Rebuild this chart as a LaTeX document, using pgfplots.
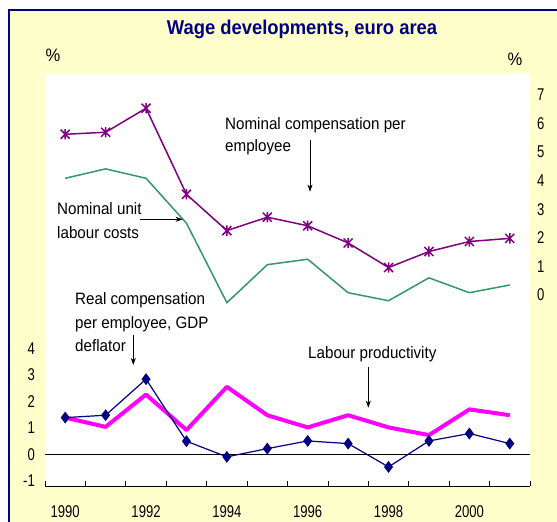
\documentclass[border=0pt]{standalone}
\usepackage{fontspec}
\setmainfont{Liberation Sans}[FakeStretch=0.92]
\newfontfamily\tickfont{Liberation Sans}[FakeStretch=0.77]
\usepackage{pgfplots}
\pgfplotsset{compat=1.18}
\usetikzlibrary{arrows.meta}
\definecolor{bgyellow}{RGB}{255,255,204}
\definecolor{navyc}{RGB}{0,0,128}
\definecolor{ecbpurple}{RGB}{128,0,128}
\definecolor{ecbgreen}{RGB}{51,153,102}
\definecolor{ecbmagenta}{RGB}{255,0,255}
\pgfdeclareplotmark{xstar}{%
  \pgfpathmoveto{\pgfpoint{-\pgfplotmarksize}{-\pgfplotmarksize}}%
  \pgfpathlineto{\pgfpoint{\pgfplotmarksize}{\pgfplotmarksize}}%
  \pgfpathmoveto{\pgfpoint{-\pgfplotmarksize}{\pgfplotmarksize}}%
  \pgfpathlineto{\pgfpoint{\pgfplotmarksize}{-\pgfplotmarksize}}%
  \pgfpathmoveto{\pgfpoint{0pt}{-1.15\pgfplotmarksize}}%
  \pgfpathlineto{\pgfpoint{0pt}{1.15\pgfplotmarksize}}%
  \pgfusepathqstroke}
\begin{document}
\begin{tikzpicture}[x=1pt,y=1pt]
\useasboundingbox (0,0) rectangle (557,522);
\fill[white] (0,0) rectangle (557,522);
\begin{scope}
\clip (0,0) rectangle (557,522);
\draw[navyc, line width=1.5pt, fill=bgyellow] (9,-10) rectangle (570,512);
\end{scope}
\fill[white] (45,36) rectangle (530,449);
\node[anchor=base, navyc, font=\bfseries\fontsize{20}{24}\selectfont, inner sep=0pt] at (302,487) {Wage developments, euro area};
\node[anchor=center, font=\fontsize{18}{20}\selectfont, inner sep=0pt] at (53,467) {\%};
\node[anchor=center, font=\fontsize{18}{20}\selectfont, inner sep=0pt] at (515,463) {\%};

% lower panel
\begin{axis}[at={(45pt,36pt)}, anchor=south west, width=485pt, height=413pt, scale only axis,
  xmin=1989.5, xmax=2001.5, ymin=-1.2, ymax=14.38,
  axis x line*=bottom, axis y line*=left,
  y axis line style={draw=none}, x axis line style={black, line width=0.8pt, -},
  xtick={1990,1992,...,2000}, xticklabels={1990,1992,1994,1996,1998,2000},
  minor xtick={1989.5,1990.5,...,2001.5},
  major tick length=0pt, minor tick length=5pt, tick align=inside,
  minor tick style={black, line width=0.8pt},
  ytick={-1,0,1,2,3,4}, yticklabels={-1,0,1,2,3,4},
  tick label style={font=\tickfont\fontsize{17}{19}\selectfont, inner sep=0pt},
  xticklabel style={anchor=center, yshift=-26pt},
  yticklabel style={anchor=east, xshift=-10pt},
  clip=false]
\addplot[black, line width=0.8pt] coordinates {(1989.5,0) (2001.5,0)};
\addplot[ecbmagenta, line width=4pt, line join=round] coordinates {
(1990,1.38) (1991,1.03) (1992,2.25) (1993,0.91) (1994,2.54) (1995,1.47)
(1996,1.01) (1997,1.47) (1998,1.01) (1999,0.72) (2000,1.69) (2001,1.47)};
\addplot[navyc, line width=1.2pt, mark=diamond*, mark size=5pt, mark options={fill=navyc, solid}] coordinates {
(1990,1.38) (1991,1.47) (1992,2.83) (1993,0.49) (1994,-0.10) (1995,0.21)
(1996,0.50) (1997,0.40) (1998,-0.48) (1999,0.50) (2000,0.78) (2001,0.40)};
\end{axis}

% upper panel
\begin{axis}[at={(45pt,36pt)}, anchor=south west, width=485pt, height=413pt, scale only axis,
  xmin=1989.5, xmax=2001.5, ymin=-6.678, ymax=7.762,
  axis x line=none, axis y line*=right,
  y axis line style={draw=none},
  major tick length=0pt,
  ytick={0,1,...,7}, yticklabels={0,1,2,3,4,5,6,7},
  tick label style={font=\tickfont\fontsize{17}{19}\selectfont, inner sep=0pt},
  yticklabel style={anchor=west, xshift=7pt},
  clip=false]
\addplot[ecbgreen, line width=1.5pt] coordinates {
(1990,4.08) (1991,4.41) (1992,4.08) (1993,2.51) (1994,-0.27) (1995,1.06)
(1996,1.25) (1997,0.08) (1998,-0.20) (1999,0.60) (2000,0.08) (2001,0.35)};
\addplot[ecbpurple, line width=1.5pt, mark=xstar, mark size=4.5pt, mark options={solid, line width=1.5pt}] coordinates {
(1990,5.62) (1991,5.69) (1992,6.53) (1993,3.52) (1994,2.25) (1995,2.72)
(1996,2.42) (1997,1.82) (1998,0.96) (1999,1.52) (2000,1.87) (2001,1.98)};
\end{axis}

% annotations
\begin{scope}[every node/.style={anchor=base west, inner sep=0pt, font=\fontsize{16.5}{20}\selectfont}]
\node at (225,392.5) {Nominal compensation per};
\node at (225,370.3) {employee};
\node at (57,307) {Nominal unit};
\node at (57,283.7) {labour costs};
\node at (75,217) {Real compensation};
\node at (75,193.5) {per employee, GDP};
\node at (75,170.3) {deflator};
\node at (308,163) {Labour productivity};
\end{scope}
\begin{scope}[line width=1pt, -{Stealth[length=7pt,width=5pt,inset=2pt]}]
\draw (310,382) -- (310,330.3);
\draw (140,302.7) -- (182.7,302.7);
\draw (133.3,187) -- (133.3,157);
\draw (368.3,155) -- (368.3,114.3);
\end{scope}
\end{tikzpicture}
\end{document}
